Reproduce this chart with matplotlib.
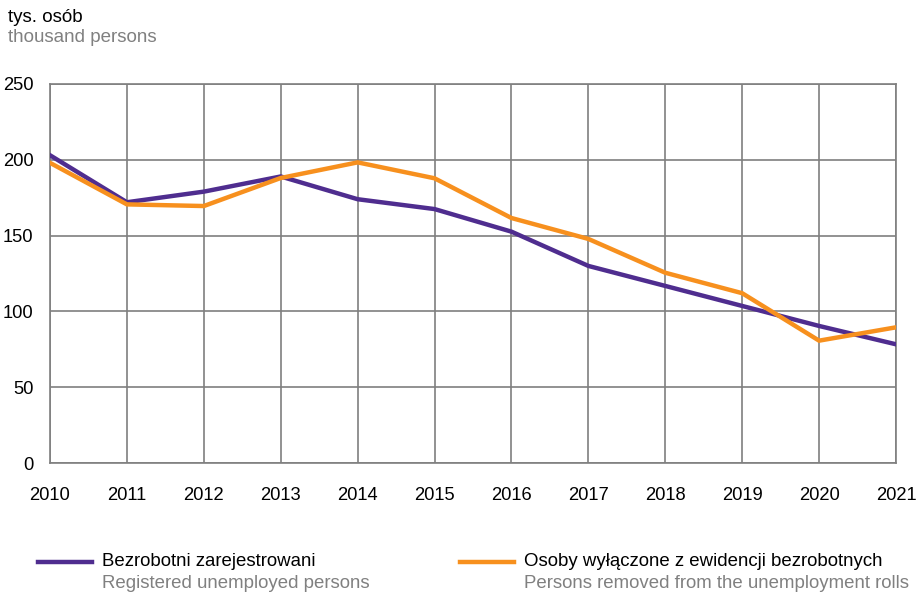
import matplotlib
matplotlib.use('Agg')
import matplotlib.pyplot as plt

# data (thousand persons)
years = list(range(2010, 2022))
registered = [203, 172, 179, 189, 174, 167.5, 152.6, 130, 116.8, 103.6, 90.4, 78.3]
removed = [198, 170.6, 169.5, 188, 198.3, 187.8, 161.6, 147.8, 125.5, 112, 80.7, 89.5]
yticks = [0, 50, 100, 150, 200, 250]

purple = '#4f2d8f'
orange = '#f7901e'
grey = '#7f7f7f'
txt_grey = '#808080'

plt.rcParams['font.family'] = ['Liberation Sans', 'DejaVu Sans']

fig = plt.figure(figsize=(9.16, 5.92), dpi=100)
ax = fig.add_axes([50 / 916, (592 - 463) / 592, 846 / 916, 379 / 592])

ax.plot(years, registered, color=purple, lw=3.2, solid_joinstyle='miter', zorder=3)
ax.plot(years, removed, color=orange, lw=3.2, solid_joinstyle='miter', zorder=3)

ax.set_xlim(2010, 2021)
ax.set_ylim(0, 250)
ax.set_xticks(years)
ax.set_yticks(yticks)
ax.grid(True, color=grey, lw=1.2)
for s in ax.spines.values():
    s.set_color(grey)
    s.set_linewidth(1.2)
ax.tick_params(length=0, labelsize=13.2, colors='black')
ax.tick_params(axis='x', pad=17)
ax.tick_params(axis='y', pad=12)

# header
fig.text(8 / 916, 1 - 17 / 592, 'tys. osób', ha='left', va='center', fontsize=13.5)
fig.text(8 / 916, 1 - 38 / 592, 'thousand persons', ha='left', va='center', fontsize=13.5, color=txt_grey)

# legend
items = [(38, purple, 'Bezrobotni zarejestrowani', 'Registered unemployed persons'),
         (460, orange, 'Osoby wyłączone z ewidencji bezrobotnych', 'Persons removed from the unemployment rolls')]
for x0, c, pl, en in items:
    fig.add_artist(plt.Line2D([x0 / 916, (x0 + 54) / 916], [1 - 562 / 592] * 2, color=c, lw=3.2))
    fig.text((x0 + 64) / 916, 1 - 562 / 592, pl, ha='left', va='center', fontsize=13.4)
    fig.text((x0 + 64) / 916, 1 - 583 / 592, en, ha='left', va='center', fontsize=13.4, color=txt_grey)

fig.savefig('out.png', dpi=100)
